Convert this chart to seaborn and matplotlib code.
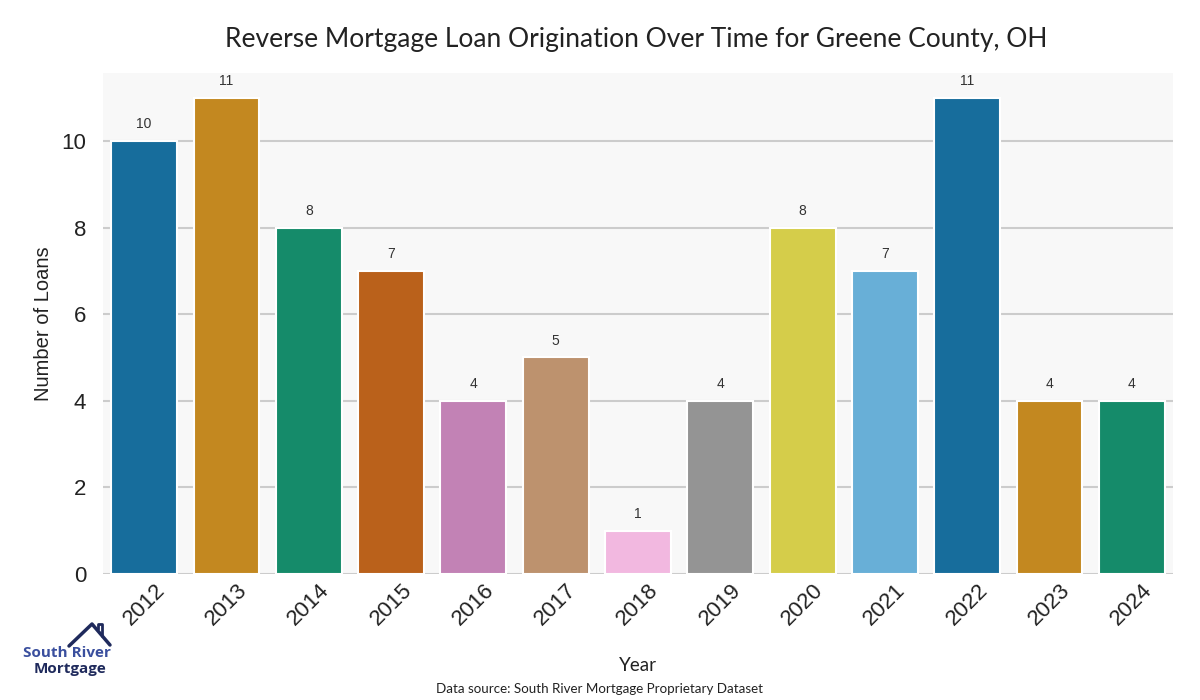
import matplotlib
matplotlib.use("Agg")
import matplotlib.pyplot as plt
import seaborn as sns
import pandas as pd
from matplotlib.lines import Line2D

years = ["2012", "2013", "2014", "2015", "2016", "2017", "2018", "2019", "2020", "2021", "2022", "2023", "2024"]
loans = [10, 11, 8, 7, 4, 5, 1, 4, 8, 7, 11, 4, 4]

sns.set_theme(style="whitegrid")
plt.rcParams["font.family"] = ["Liberation Sans", "DejaVu Sans"]

df = pd.DataFrame({"Year": years, "Loans": loans})
palette = sns.color_palette("colorblind", 10)
colors = [palette[i % 10] for i in range(len(years))]

fig = plt.figure(figsize=(12, 7), dpi=100)
ax = fig.add_axes([103 / 1200, 1 - 574 / 700, 1070 / 1200, 501 / 700])
ax.set_facecolor("#f8f8f8")

sns.barplot(data=df, x="Year", y="Loans", hue="Year", palette=colors, legend=False,
            ax=ax, width=0.8, edgecolor="white", linewidth=1.5, saturation=0.75)

for c in ax.containers:
    ax.bar_label(c, padding=7, fontsize=10, color="#333333")

ax.set_ylim(0, 11.57)
ax.set_xlim(-0.5, 12.5)
ax.grid(axis="y", color="#cccccc", linewidth=1.5)
ax.grid(axis="x", visible=False)
ax.set_axisbelow(True)
for s in ax.spines.values():
    s.set_visible(False)
ax.tick_params(axis="y", labelsize=16, colors="#222222", length=0, pad=12)
ax.tick_params(axis="x", labelsize=16, colors="#222222", length=0, pad=4)
plt.setp(ax.get_xticklabels(), rotation=45, ha="center")

jak = ["Lato", "DejaVu Sans"]
ax.set_ylabel("Number of Loans", fontsize=14.5, color="#222222", labelpad=6)
ax.set_xlabel("Year", fontsize=13.5, family=jak, color="#222222", labelpad=20)
fig.text(0.53, 1 - 40 / 700, "Reverse Mortgage Loan Origination Over Time for Greene County, OH",
         ha="center", va="center", fontsize=19, family=jak, color="#222222")
fig.text(0.5, 1 - 689 / 700, "Data source: South River Mortgage Proprietary Dataset",
         ha="center", va="center", fontsize=9.6, family=jak, color="#222222")

# logo
navy = "#1f2a5c"
fig.text(67 / 1200, 1 - 653 / 700, "South River", ha="center", va="center", fontsize=11,
         fontweight="bold", color="#3a4f9e", family=["Open Sans", "DejaVu Sans"])
fig.text(70 / 1200, 1 - 669 / 700, "Mortgage", ha="center", va="center", fontsize=11,
         fontweight="bold", color=navy, family=["Open Sans", "DejaVu Sans"])
hx = [69, 92, 110]
hy = [646, 624, 645]
fig.add_artist(Line2D([x / 1200 for x in hx], [1 - y / 700 for y in hy], color=navy, linewidth=2.5,
                      transform=fig.transFigure))
fig.add_artist(Line2D([98 / 1200, 98 / 1200, 102 / 1200, 102 / 1200],
                      [1 - 629 / 700, 1 - 624 / 700, 1 - 624 / 700, 1 - 636 / 700],
                      color=navy, linewidth=2, transform=fig.transFigure))

fig.savefig("out.png", dpi=100, facecolor="white")
